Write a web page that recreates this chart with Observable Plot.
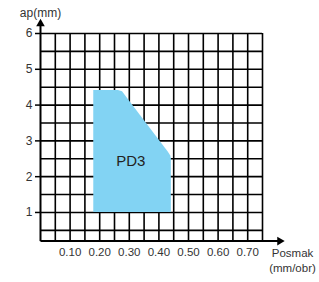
<!DOCTYPE html>
<html>
<head>
<meta charset="utf-8">
<script src="https://cdn.jsdelivr.net/npm/d3@7"></script>
<script src="https://cdn.jsdelivr.net/npm/@observablehq/plot@0.6"></script>
<style>
  html, body { margin: 0; padding: 0; background: #fff; }
</style>
</head>
<body>
<div id="chart"></div>
<script>
// Tick labels / grid positions
const xTicks = [0.10, 0.20, 0.30, 0.40, 0.50, 0.60, 0.70];
const yTicks = [1, 2, 3, 4, 5, 6];
const xGrid = [0.05, 0.10, 0.15, 0.20, 0.25, 0.30, 0.35, 0.40, 0.45, 0.50, 0.55, 0.60, 0.65, 0.70, 0.75];
const yGrid = [0.5, 1, 1.5, 2, 2.5, 3, 3.5, 4, 4.5, 5, 5.5, 6];

// PD3 region outline (feed vs depth of cut)
const pd3Feed = [0.18, 0.263, 0.277, 0.289, 0.432, 0.440, 0.442];
const pd3DepthTop = [4.41, 4.41, 4.37, 4.24, 2.68, 2.58, 2.50];
const pd3DepthBottom = 1;
const regionLabel = "PD3";
const regionLabelPos = {x: 0.305, y: 2.42};

// Axis extents
const xMin = 0, xMax = 0.75, yMin = 0.2, yMax = 6;
const xArrowTip = 0.815, yArrowTip = 6.33;

const xTitle = "Posmak\n(mm/obr)";
const yTitle = "ap(mm)";

const area = pd3Feed.map((f, i) => ({x: f, y: pd3DepthTop[i]}));

const chart = Plot.plot({
  width: 319,
  height: 282,
  marginLeft: 40,
  marginRight: 57,
  marginTop: 33,
  marginBottom: 41.4,
  x: {domain: [xMin, xMax]},
  y: {domain: [yMin, yMax]},
  style: {fontFamily: "'Liberation Sans', Arial, sans-serif", fontSize: "11px", color: "#333", background: "#fff"},
  marks: [
    Plot.gridX(xGrid, {stroke: "#000", strokeOpacity: 1, strokeWidth: 1.6}),
    Plot.gridY(yGrid, {stroke: "#000", strokeOpacity: 1, strokeWidth: 1.6}),
    Plot.areaY(area, {x: "x", y1: pd3DepthBottom, y2: "y", fill: "#82d3f3", curve: "linear"}),
    Plot.text([regionLabelPos], {x: "x", y: "y", text: () => regionLabel, fontSize: 15, fill: "#222"}),
    // axes lines with arrows
    Plot.link([{x1: xMin, y1: yMin, x2: xArrowTip, y2: yMin}], {x1: "x1", y1: "y1", x2: "x2", y2: "y2", stroke: "#000", strokeWidth: 2}),
    Plot.link([{x1: xMin, y1: yMin, x2: xMin, y2: yArrowTip}], {x1: "x1", y1: "y1", x2: "x2", y2: "y2", stroke: "#000", strokeWidth: 2}),
    Plot.dot([{x: xArrowTip, y: yMin}], {x: "x", y: "y", symbol: "triangle", r: 3.2, fill: "#000", stroke: "none", rotate: 90, dx: -2}),
    Plot.dot([{x: xMin, y: yArrowTip}], {x: "x", y: "y", symbol: "triangle", r: 3.2, fill: "#000", stroke: "none", dy: 2}),
    Plot.axisX({ticks: xTicks, tickFormat: d3.format(".2f"), tickSize: 0, tickPadding: 7, label: null, fill: "#333", fontSize: 11.5}),
    Plot.axisY({ticks: yTicks, tickFormat: d3.format("d"), tickSize: 5, tickPadding: 3, label: null, stroke: "#000", strokeWidth: 1.5, fill: "#333", fontSize: 12}),
    Plot.text([{x: xMin, y: yMax}], {x: "x", y: "y", text: () => yTitle, dy: -20, fontSize: 12, fill: "#333"}),
    Plot.text([{x: xMax, y: yMin}], {x: "x", y: "y", text: () => xTitle, dx: 30, dy: 5, lineAnchor: "top", lineHeight: 1.3, fontSize: 11.5, fill: "#333"})
  ]
});
document.getElementById("chart").appendChild(chart);
</script>
</body>
</html>
